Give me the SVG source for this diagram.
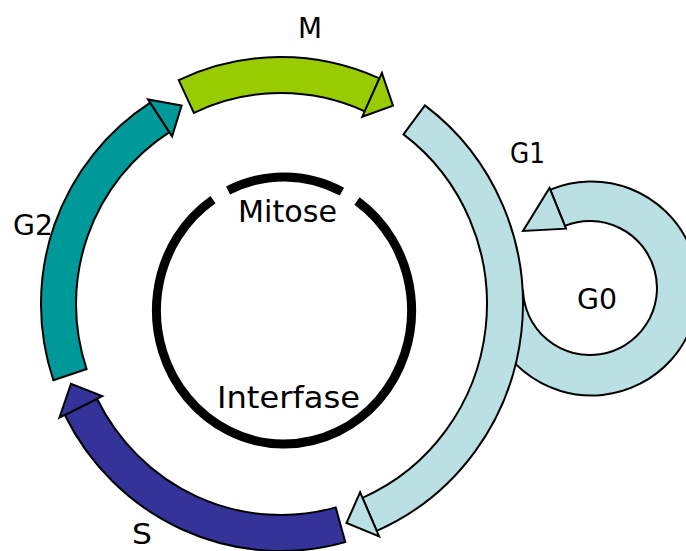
<svg xmlns="http://www.w3.org/2000/svg" width="686" height="551" viewBox="0 0 686 551">
  <style>
    .band { stroke: #000; stroke-width: 2; stroke-linejoin: miter; }
    .m { fill: #99CC00; }
    .g1 { fill: #BBE0E3; }
    .s { fill: #333399; }
    .g2 { fill: #009999; }
    .ring { fill: none; stroke: #000; stroke-width: 9; stroke-linecap: butt; }
    .lbl { font-family: "Comic Sans MS", "DejaVu Sans", sans-serif; font-size: 29px; fill: #000; }
  </style>
  <rect width="686" height="551" fill="#fff"/>

  <!-- inner ring: mitosis (top) and interphase -->
  <g id="inner-ring">
    <path class="ring" d="M 228.1,190.5 A 127.6 133.5 0 0 1 341.9,191.6"/>
    <path class="ring" d="M 357,201 A 127.6 133.5 0 1 1 213,199.6"/>
    <text class="lbl" x="238" y="222" style="font-size:31px" textLength="99" lengthAdjust="spacingAndGlyphs">Mitose</text>
    <text class="lbl" x="217" y="408" style="font-size:31px" textLength="143" lengthAdjust="spacingAndGlyphs">Interfase</text>
  </g>

  <g id="connectors">
    <!-- G0 loop, partly hidden under G1 -->
    <g id="phase-G0">
      <path class="band g1" d="M 498.2,341 A 107 107 0 1 0 550.3,189.7 L 564.9,225.9 A 67 67 0 1 1 523,290.3 Z"/>
      <path class="band g1" d="M 549.5,187.9 L 566,228.7 L 523,231 Z"/>
    </g>

    <!-- G1 -->
    <g id="phase-G1">
      <path class="band g1" d="M 424.9,105.4 A 242 247 0 0 1 376.7,530.8 L 362.5,497.8 A 206 211 0 0 0 403.5,134.4 Z"/>
      <path class="band g1" d="M 379.1,536.4 L 360.1,492.3 L 346.5,523 Z"/>
    </g>

    <!-- S -->
    <g id="phase-S">
      <path class="band s" d="M 345.3,542.1 A 242 247 0 0 1 64.8,415 L 97,398.8 A 206 211 0 0 0 335.7,507.4 Z"/>
      <path class="band s" d="M 59.4,417.7 L 102.3,396.1 L 71,383.8 Z"/>
    </g>

    <!-- G2 -->
    <g id="phase-G2">
      <path class="band g2" d="M 53.4,380.2 A 240 240 0 0 1 150.3,102.7 L 169.4,132.1 A 205 205 0 0 0 86.6,369 Z"/>
      <path class="band g2" d="M 148.1,99.4 L 172.1,136.3 L 181.6,105.5 Z"/>
    </g>

    <!-- M -->
    <g id="phase-M">
      <path class="band m" d="M 178.7,80.1 A 242 247 0 0 1 379.4,78.4 L 364.8,111.3 A 206 211 0 0 0 193.9,112.8 Z"/>
      <path class="band m" d="M 381.9,72.9 L 362.3,116.7 L 393,105.7 Z"/>
    </g>
  </g>

  <g id="labels">
    <text class="lbl" x="298" y="38" textLength="24" lengthAdjust="spacingAndGlyphs">M</text>
    <text class="lbl" x="510" y="163" textLength="35" lengthAdjust="spacingAndGlyphs">G1</text>
    <text class="lbl" x="13" y="235" textLength="40" lengthAdjust="spacingAndGlyphs">G2</text>
    <text class="lbl" x="577" y="309" textLength="40" lengthAdjust="spacingAndGlyphs">G0</text>
    <text class="lbl" x="132" y="544" textLength="20" lengthAdjust="spacingAndGlyphs">S</text>
  </g>
</svg>
